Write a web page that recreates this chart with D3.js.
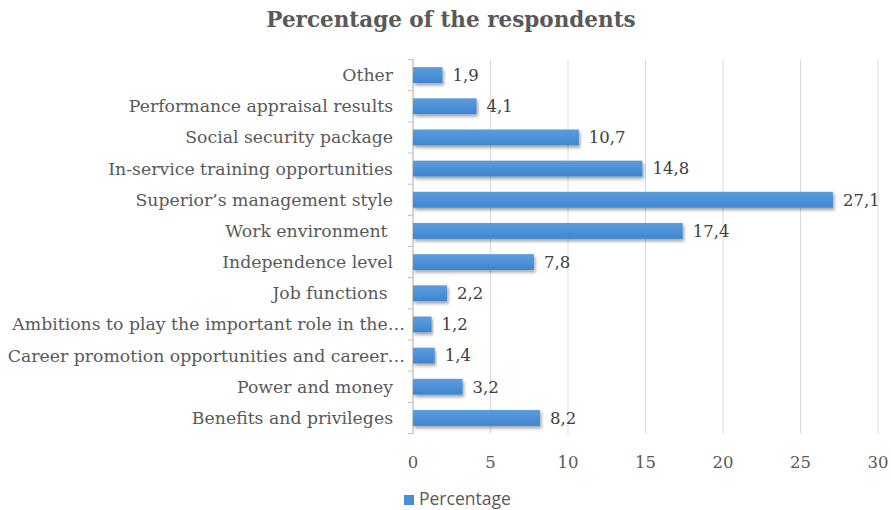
<!DOCTYPE html>
<html><head><meta charset="utf-8">
<script src="https://cdn.jsdelivr.net/npm/d3@7"></script>
<style>body{margin:0;background:#fff} text{white-space:pre}</style>
</head><body>
<svg id="c" width="891" height="510"></svg>
<script>
const categories = ["Other","Performance appraisal results","Social security package","In-service training opportunities","Superior’s management style","Work environment ","Independence level","Job functions ","Ambitions to play the important role in the…","Career promotion opportunities and career…","Power and money","Benefits and privileges"];
const values = [1.9,4.1,10.7,14.8,27.1,17.4,7.8,2.2,1.2,1.4,3.2,8.2];
const valueLabels = ["1,9","4,1","10,7","14,8","27,1","17,4","7,8","2,2","1,2","1,4","3,2","8,2"];
const xTicks = [0,5,10,15,20,25,30];
const seriesName = "Percentage";
const title = "Percentage of the respondents";

const svg = d3.select("#c");
const serif = "'DejaVu Serif', serif";
const m = {left:413, right:878, top:59.5, bottom:433.5};
const x = d3.scaleLinear().domain([0,30]).range([m.left,m.right]);
const y = d3.scaleBand().domain(categories).range([m.top,m.bottom]).paddingInner(0.49).paddingOuter(0.245);

const defs = svg.append("defs");
const f = defs.append("filter").attr("id","sh").attr("x","-5%").attr("y","-30%").attr("width","115%").attr("height","190%");
f.append("feDropShadow").attr("dx",1.5).attr("dy",2.5).attr("stdDeviation",1.5).attr("flood-color","#000").attr("flood-opacity",0.35);
const g = defs.append("linearGradient").attr("id","bg").attr("x1",0).attr("y1",0).attr("x2",0).attr("y2",1);
g.append("stop").attr("offset","0%").attr("stop-color","#5c9ddd");
g.append("stop").attr("offset","100%").attr("stop-color","#3f85cf");

svg.append("text").attr("x",451).attr("y",27).attr("text-anchor","middle")
  .attr("font-family",serif).attr("font-weight","bold").attr("font-size",21.5)
  .attr("fill","#595959").text(title);

// grid
svg.append("g").selectAll("line").data(xTicks).join("line")
  .attr("x1",d=>x(d)).attr("x2",d=>x(d)).attr("y1",m.top).attr("y2",m.bottom)
  .attr("stroke","#d9d9d9").attr("stroke-width",1);

// left axis with ticks at band boundaries
const bounds = d3.range(categories.length+1).map(i=>m.top + i*(m.bottom-m.top)/categories.length);
svg.append("line").attr("x1",m.left).attr("x2",m.left).attr("y1",m.top).attr("y2",m.bottom).attr("stroke","#bfbfbf");
svg.append("g").selectAll("line").data(bounds).join("line")
  .attr("x1",m.left-5).attr("x2",m.left).attr("y1",d=>d).attr("y2",d=>d).attr("stroke","#bfbfbf");

// bars
svg.append("g").selectAll("rect").data(values).join("rect")
  .attr("x",x(0)).attr("y",(d,i)=>y(categories[i])).attr("height",y.bandwidth())
  .attr("width",d=>x(d)-x(0)).attr("fill","url(#bg)").attr("filter","url(#sh)");

// value labels
svg.append("g").selectAll("text").data(values).join("text")
  .attr("x",d=>x(d)+10).attr("y",(d,i)=>y(categories[i])+y.bandwidth()/2).attr("dy","0.35em")
  .attr("font-family",serif).attr("font-size",16.5).attr("fill","#404040")
  .text((d,i)=>valueLabels[i]);

// category labels
svg.append("g").selectAll("text").data(categories).join("text")
  .attr("x",d=>d.endsWith("…") ? m.left-8 : m.left-20).attr("y",d=>y(d)+y.bandwidth()/2).attr("dy","0.35em").attr("text-anchor","end")
  .attr("font-family",serif).attr("font-size",17.3).attr("fill","#595959").text(d=>d);

// x tick labels
svg.append("g").selectAll("text").data(xTicks).join("text")
  .attr("x",d=>x(d)).attr("y",468).attr("text-anchor","middle")
  .attr("font-family",serif).attr("font-size",16.5).attr("fill","#595959").text(d=>d);

// legend
svg.append("rect").attr("x",404).attr("y",495).attr("width",10).attr("height",10).attr("fill","#4a8fd6");
svg.append("text").attr("x",419).attr("y",505).attr("font-family","'Open Sans', sans-serif")
  .attr("font-size",17.5).attr("fill","#595959").text(seriesName);
</script>
</body></html>
